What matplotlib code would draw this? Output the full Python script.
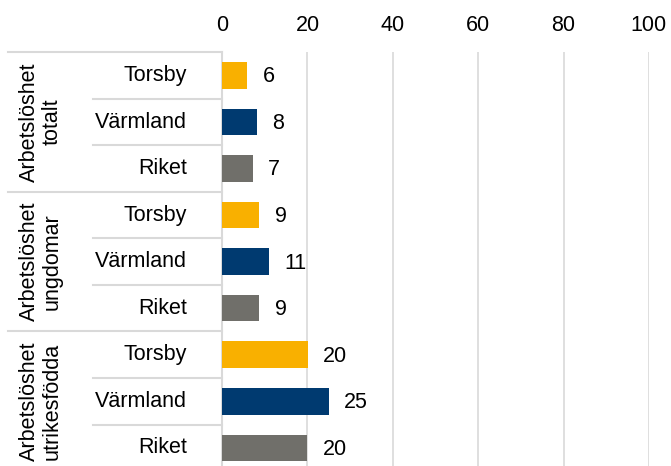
import matplotlib.pyplot as plt
from matplotlib.lines import Line2D

# Data
grupper = ['Arbetslöshet\ntotalt', 'Arbetslöshet\nungdomar', 'Arbetslöshet\nutrikesfödda']
omraden = ['Torsby', 'Värmland', 'Riket']
varden = [5.9, 8.1, 7.2, 8.7, 10.9, 8.7, 20.1, 25.0, 20.0]
etiketter = ['6', '8', '7', '9', '11', '9', '20', '25', '20']
farger = ['#F9B000', '#003A70', '#706F6A']
xticks = [0, 20, 40, 60, 80, 100]

plt.rcParams['font.family'] = ['Liberation Sans', 'DejaVu Sans']
fs = 15.5

fig = plt.figure(figsize=(6.71, 4.66), dpi=100)
# axeln går lite under bildkanten, som i originalet
ax = fig.add_axes([0.331, -0.011, 0.636, 0.899])

pos = list(range(len(varden)))
cols = [farger[i % 3] for i in pos]
ax.barh(pos, varden, height=0.57, color=cols, zorder=3)

for p, v, t in zip(pos, varden, etiketter):
    ax.annotate(t, (v, p), xytext=(11, -1), textcoords='offset points',
                va='center', ha='left', fontsize=fs, color='#000000')

ax.set_xlim(0, 100)
ax.set_ylim(len(varden) - 0.5, -0.5)
ax.set_xticks(xticks)
ax.xaxis.tick_top()
ax.tick_params(axis='x', length=0, labelsize=fs, pad=12)
ax.set_yticks([])
ax.grid(axis='x', color='#D9D9D9', linewidth=1.2, zorder=0)
for s in ['top', 'right', 'bottom']:
    ax.spines[s].set_visible(False)
ax.spines['left'].set_color('#D9D9D9')
ax.spines['left'].set_linewidth(1.5)

tr = ax.get_yaxis_transform()
# Kategorietiketter
for p in pos:
    ax.text(-0.082, p, omraden[p % 3], transform=tr, ha='right', va='center',
            fontsize=fs)

# Gruppetiketter
for g, namn in enumerate(grupper):
    ax.text(-0.425, g * 3 + 1, namn, transform=tr, ha='center', va='center',
            rotation=90, fontsize=fs, linespacing=1.15)

# Linjer i etikettområdet
for p in range(len(varden) + 1):
    y = p - 0.5
    x0 = -0.501 if p % 3 == 0 else -0.302
    ax.add_line(Line2D([x0, 0], [y, y], transform=tr, color='#D9D9D9',
                       linewidth=1.5, clip_on=False))

fig.savefig('out.png', dpi=100)
